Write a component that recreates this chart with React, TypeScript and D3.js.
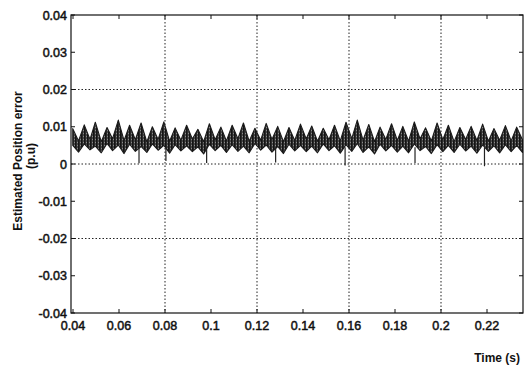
import React from "react";
import * as d3 from "d3";

// peaks of the ripple (s) and the band edges read at each peak
const peakT = [
  0.0399, 0.0449, 0.0497, 0.0548, 0.0597, 0.0646, 0.0696, 0.0745, 0.0795, 0.0844,
  0.0894, 0.0943, 0.0993, 0.1043, 0.1092, 0.1141, 0.1191, 0.124, 0.129, 0.1339,
  0.1389, 0.1438, 0.1488, 0.1537, 0.1587, 0.1636, 0.1686, 0.1735, 0.1785, 0.1834,
  0.1884, 0.1933, 0.1983, 0.2032, 0.2082, 0.2131, 0.2181, 0.223, 0.228, 0.2329,
];
const peakHi = [
  0.0095, 0.0105, 0.0112, 0.0098, 0.0118, 0.0104, 0.011, 0.01, 0.0113, 0.0097,
  0.0104, 0.0093, 0.0108, 0.0099, 0.0104, 0.011, 0.0096, 0.0109, 0.0101, 0.0098,
  0.0107, 0.0102, 0.0096, 0.0104, 0.0112, 0.0118, 0.0106, 0.0099, 0.0108, 0.0101,
  0.0113, 0.0097, 0.011, 0.0104, 0.0098, 0.0101, 0.0107, 0.0095, 0.0103, 0.0099,
];
const peakLo = [
  0.005, 0.0054, 0.0048, 0.0055, 0.0051, 0.0053, 0.0047, 0.0054, 0.005, 0.0052,
  0.0049, 0.0046, 0.0053, 0.005, 0.0052, 0.0048, 0.0055, 0.0051, 0.0047, 0.0053,
  0.005, 0.0048, 0.0054, 0.0049, 0.0052, 0.0055, 0.0046, 0.0053, 0.005, 0.0048,
  0.0054, 0.0047, 0.0052, 0.005, 0.0053, 0.0048, 0.0051, 0.0049, 0.0052, 0.005,
];

// troughs between peaks
const troughT = [
  0.0424, 0.0474, 0.0523, 0.0572, 0.0622, 0.0671, 0.0721, 0.077, 0.082, 0.0869,
  0.0919, 0.0968, 0.1018, 0.1067, 0.1117, 0.1166, 0.1216, 0.1265, 0.1315, 0.1364,
  0.1414, 0.1463, 0.1513, 0.1562, 0.1612, 0.1661, 0.1711, 0.176, 0.181, 0.1859,
  0.1909, 0.1958, 0.2008, 0.2057, 0.2107, 0.2156, 0.2206, 0.2255, 0.2305, 0.2354,
];
const troughHi = [
  0.0062, 0.0066, 0.006, 0.0068, 0.0063, 0.0065, 0.0059, 0.0066, 0.0061, 0.0064,
  0.0067, 0.006, 0.0065, 0.0062, 0.0068, 0.0061, 0.0064, 0.0066, 0.006, 0.0063,
  0.0067, 0.0061, 0.0065, 0.0062, 0.0068, 0.0064, 0.006, 0.0066, 0.0063, 0.0061,
  0.0067, 0.0062, 0.0065, 0.006, 0.0066, 0.0063, 0.0061, 0.0064, 0.0062, 0.0065,
];
const troughLo = [
  0.0032, 0.0038, 0.003, 0.0036, 0.0028, 0.0034, 0.0031, 0.0037, 0.0029, 0.0035,
  0.0033, 0.0027, 0.0036, 0.0031, 0.0034, 0.003, 0.0037, 0.0032, 0.0028, 0.0035,
  0.0033, 0.003, 0.0036, 0.0029, 0.0034, 0.0031, 0.0027, 0.0035, 0.0032, 0.003,
  0.0036, 0.0028, 0.0033, 0.0031, 0.0035, 0.0029, 0.0034, 0.003, 0.0033, 0.0031,
];

// short downward spikes
const spikeT = [0.0687, 0.0804, 0.0981, 0.1281, 0.1583, 0.1887, 0.2189];
const spikeV = [0.0002, 0.0008, 0.0003, 0.0004, -0.0004, 0.0003, -0.0006];

const xTicks = [0.04, 0.06, 0.08, 0.1, 0.12, 0.14, 0.16, 0.18, 0.2, 0.22];
const yTicks = [-0.04, -0.03, -0.02, -0.01, 0, 0.01, 0.02, 0.03, 0.04];
const xGrid = [0.08, 0.12, 0.16, 0.2];
const yGrid = [-0.02, 0, 0.02];

const W = 526;
const H = 368;
const L = 71, R = 523, T = 15, B = 313;

export default function App() {
  const x = d3.scaleLinear().domain([0.03913, 0.23565]).range([L, R]);
  const y = d3.scaleLinear().domain([-0.04, 0.04]).range([B, T]);

  const band = peakT.flatMap((t, i) => [
    { t, hi: peakHi[i], lo: peakLo[i] },
    { t: troughT[i], hi: troughHi[i], lo: troughLo[i] },
  ]);
  const area = d3
    .area<{ t: number; hi: number; lo: number }>()
    .x((d) => x(d.t))
    .y0((d) => y(d.lo))
    .y1((d) => y(d.hi));
  const fmt = (v: number) => (v === 0 ? "0" : String(+v.toFixed(2)));
  const tickFont = { fontFamily: "Liberation Sans, Arial, sans-serif", fontSize: 12.5 };
  const tick = 4;

  return (
    <svg width={W} height={H} style={{ position: "fixed", left: 0, top: 0, background: "#fff" }}>
      <defs>
        <pattern id="noise" width="3" height="3" patternUnits="userSpaceOnUse">
          <rect width="3" height="3" fill="#4a4a4a" />
          <rect width="1.6" height="3" fill="#141414" />
          <rect x="2" y="1" width="1" height="1" fill="#8a8a8a" />
        </pattern>
      </defs>

      {xGrid.map((v) => (
        <line key={"gx" + v} x1={x(v)} x2={x(v)} y1={T} y2={B} stroke="#222" strokeWidth={1} strokeDasharray="1.5,2" />
      ))}
      {yGrid.map((v) => (
        <line key={"gy" + v} x1={L} x2={R} y1={y(v)} y2={y(v)} stroke="#222" strokeWidth={1} strokeDasharray="1.5,2" />
      ))}

      <path d={area(band) || ""} fill="url(#noise)" stroke="#1a1a1a" strokeWidth={1.1} strokeLinejoin="round" />
      {spikeT.map((t, i) => (
        <line key={"s" + i} x1={x(t)} x2={x(t)} y1={y(0.0045)} y2={y(spikeV[i])} stroke="#222" strokeWidth={1.2} />
      ))}

      <rect x={L} y={T} width={R - L} height={B - T} fill="none" stroke="#111" strokeWidth={1.2} />

      {xTicks.map((v) => (
        <g key={"xt" + v}>
          <line x1={x(v)} x2={x(v)} y1={B} y2={B - tick} stroke="#111" />
          <line x1={x(v)} x2={x(v)} y1={T} y2={T + tick} stroke="#111" />
          <text x={x(v)} y={330} textAnchor="middle" fill="#111" stroke="#111" strokeWidth={0.5} style={tickFont}>
            {fmt(v)}
          </text>
        </g>
      ))}
      {yTicks.map((v) => (
        <g key={"yt" + v}>
          <line x1={L} x2={L + tick} y1={y(v)} y2={y(v)} stroke="#111" />
          <line x1={R} x2={R - tick} y1={y(v)} y2={y(v)} stroke="#111" />
          <text x={67} y={y(v)} dy="0.36em" textAnchor="end" fill="#111" stroke="#111" strokeWidth={0.5} style={tickFont}>
            {fmt(v)}
          </text>
        </g>
      ))}

      <text
        transform="translate(21.5,161) rotate(-90)"
        textAnchor="middle"
        fontFamily="Liberation Sans, Arial, sans-serif"
        fontWeight="bold"
        fontSize={12}
        fill="#111"
      >
        Estimated Position error
      </text>
      <text
        transform="translate(35,156) rotate(-90)"
        textAnchor="middle"
        fontFamily="Liberation Sans, Arial, sans-serif"
        fontWeight="bold"
        fontSize={12}
        fill="#111"
      >
        (p.u)
      </text>
      <text
        x={520}
        y={362}
        textAnchor="end"
        fontFamily="Liberation Sans, Arial, sans-serif"
        fontWeight="bold"
        fontSize={12}
        fill="#111"
      >
        Time (s)
      </text>
    </svg>
  );
}
